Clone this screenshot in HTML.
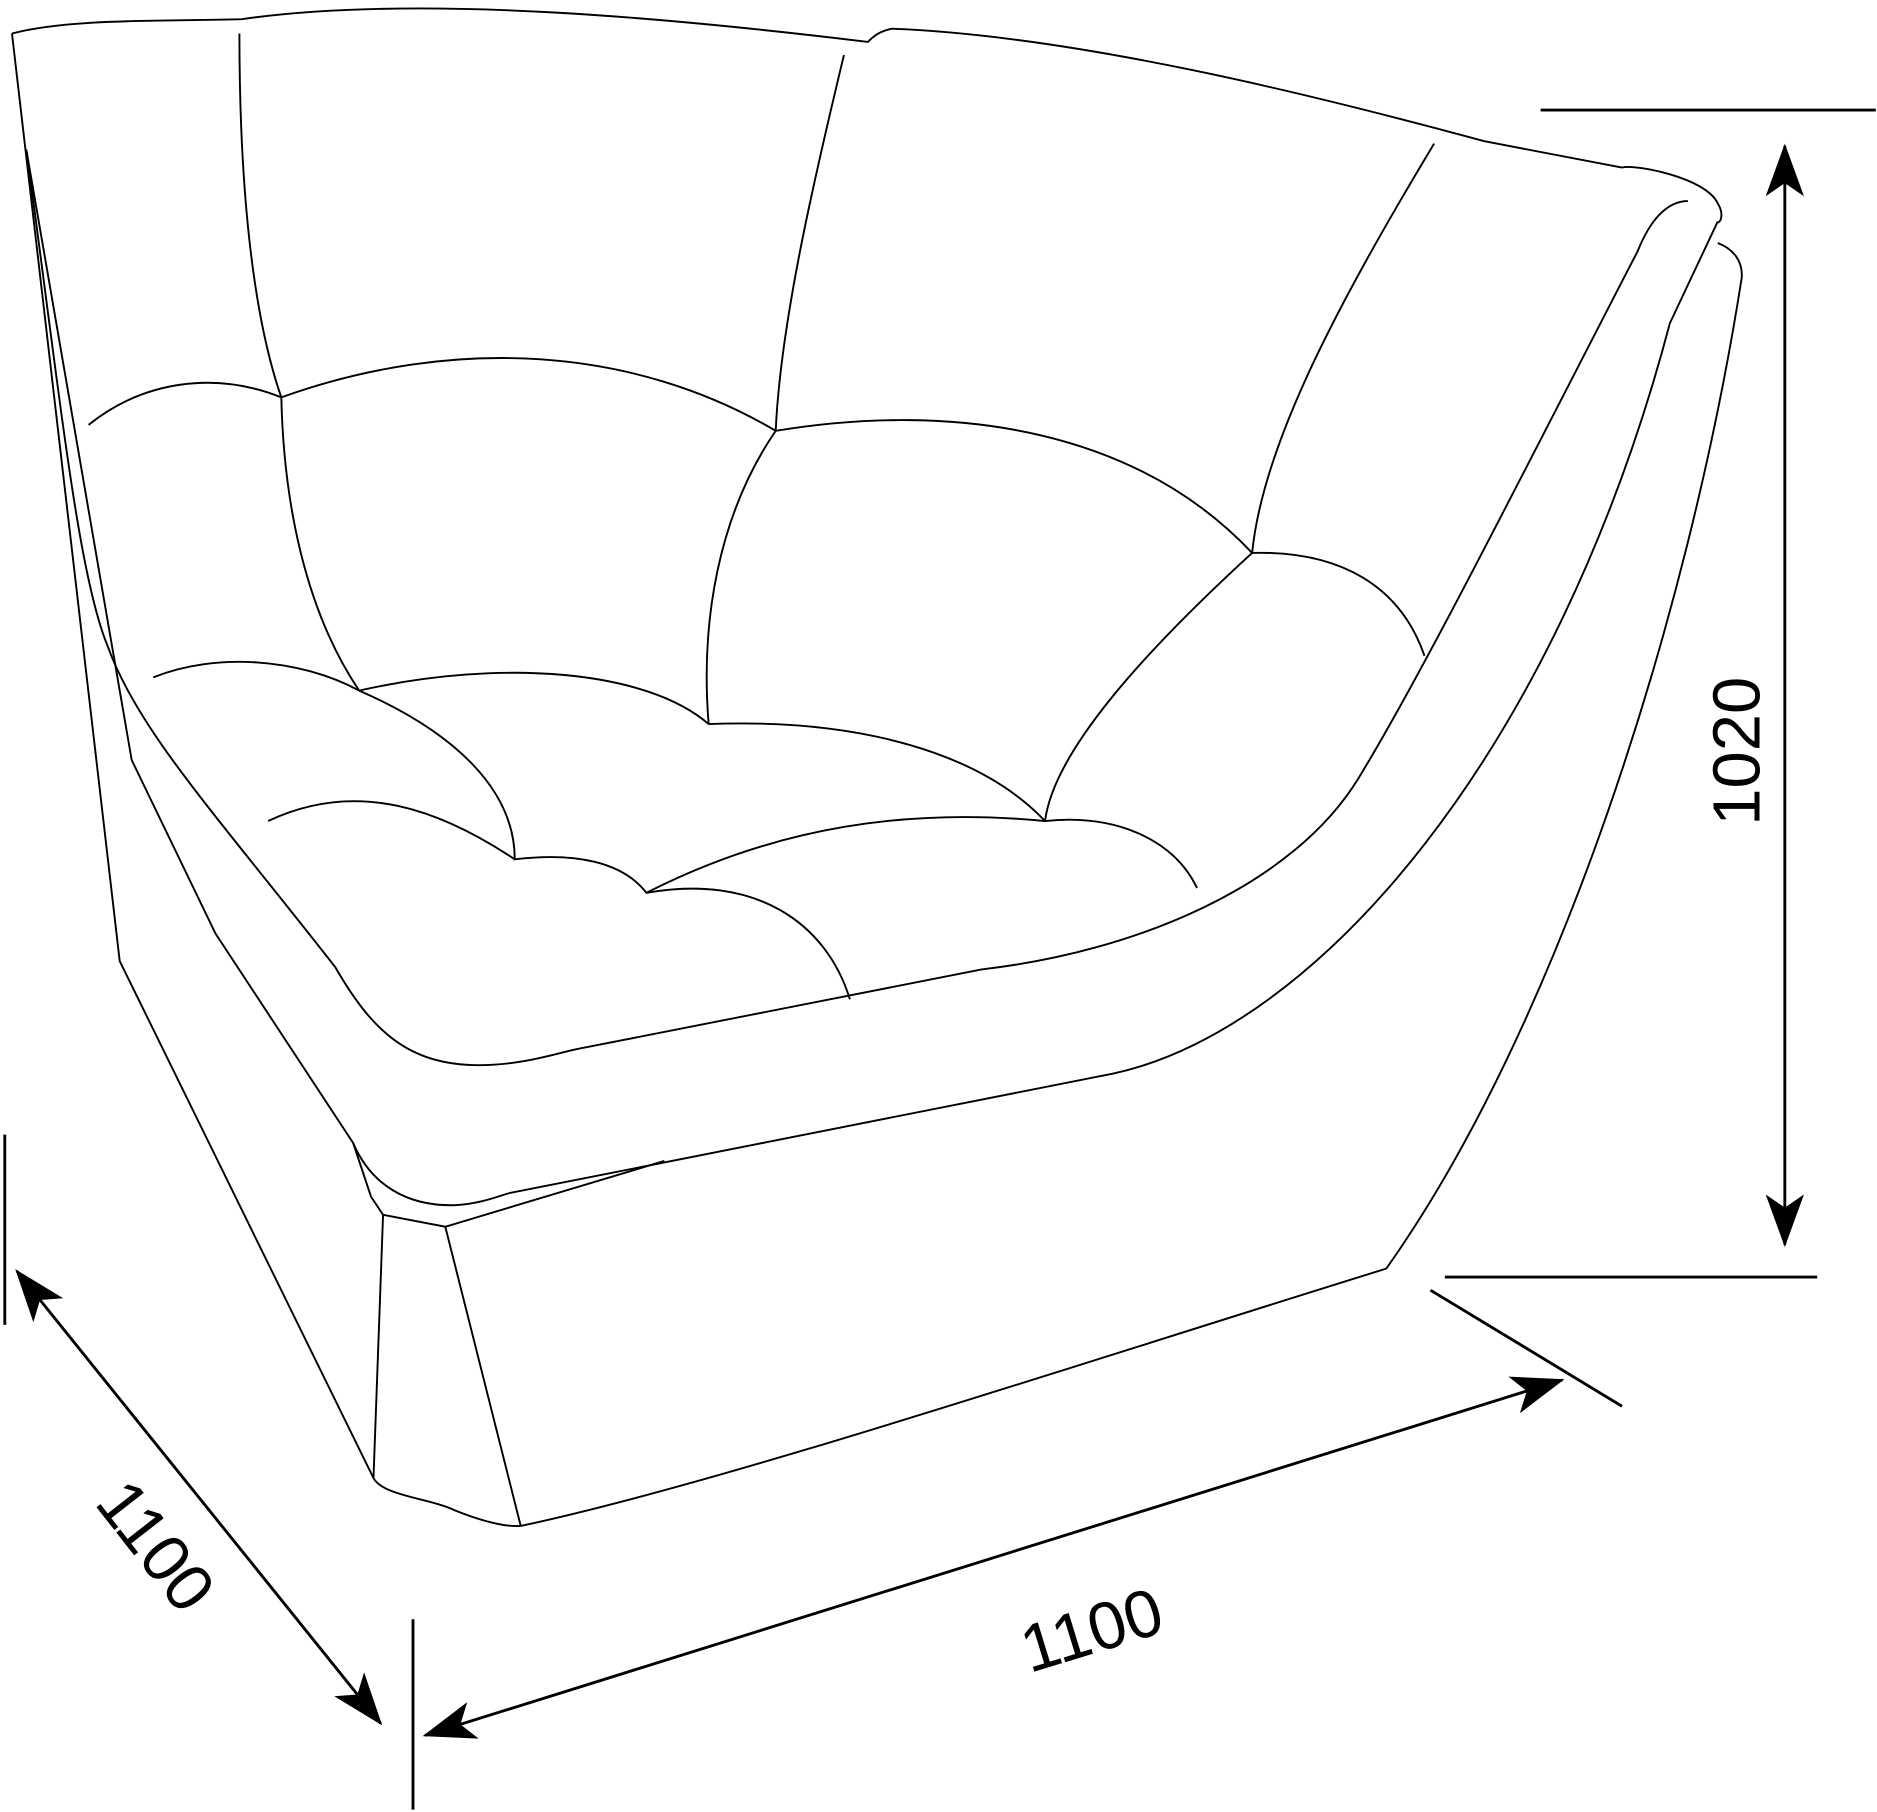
<!DOCTYPE html>
<html><head><meta charset="utf-8"><style>
html,body{margin:0;padding:0;background:#fff;}
svg{display:block;}
text{font-family:"Liberation Sans",sans-serif;font-size:56px;fill:#000;}
</style></head><body>
<svg width="1877" height="1812" viewBox="0 0 1568 1514" preserveAspectRatio="none" xmlns="http://www.w3.org/2000/svg">
<defs>
<marker id="ah" viewBox="0 0 44 32" refX="42" refY="16" markerWidth="44" markerHeight="32" markerUnits="userSpaceOnUse" orient="auto-start-reverse">
<path d="M0,0 L44,16 L0,32 L11,16 Z" fill="#000"/>
</marker>
</defs>
<g fill="none" stroke="#000" stroke-width="1.6">
<path d="M10,28 C60,15 140,18 202,16 C350,-5 560,15 725,35 C730,30 735,26 745,24 C900,30 1100,80 1240,118 L1355,140"/>
<path d="M1355,140 C1365,137 1425,148 1435,170 C1440,178 1438,185 1435,186"/>
<path d="M10,28 L100,803 L312,1235"/>
<path d="M312,1235 C320,1250 360,1252 380,1262 C400,1270 420,1276 435,1275"/>
<path d="M435,1275 C600,1240 900,1140 1158,1060"/>
<path d="M1158,1060 C1300,860 1410,520 1455,232 C1456,218 1448,208 1435,203"/>
<path d="M22,125 L110,635 L180,780 L295,955 L310,1000 L320,1015 L312,1235"/>
<path d="M22,125 C50,330 65,480 90,540 C115,610 180,680 280,808 C310,860 340,890 400,890 C440,890 470,878 490,875"/>
<path d="M295,955 C310,990 340,1008 380,1007 C400,1006 415,1000 425,997"/>
<path d="M320,1015 L372,1025 L555,970"/>
<path d="M372,1025 L435,1275"/>
<path d="M425,997 L930,897 C1100,860 1300,630 1395,270 L1435,185"/>
<path d="M1410,168 C1395,168 1380,180 1368,210 C1280,380 1190,560 1135,650 C1080,740 950,795 820,810 L490,875"/>
<path d="M200,28 C200,150 210,260 235,332 C237,420 255,510 300,577"/>
<path d="M705,46 C680,150 652,270 648,360 C600,430 585,520 592,605"/>
<path d="M1198,120 C1120,250 1055,370 1046,462 C950,550 880,630 873,686"/>
<path d="M74,355 C120,318 180,310 235,332 C380,280 530,290 648,360 C800,335 950,360 1046,462 C1120,460 1170,490 1190,548"/>
<path d="M128,566 C180,545 250,550 300,577 C420,550 540,560 592,605 C720,600 820,630 873,686 C930,680 980,700 1000,742"/>
<path d="M300,577 C380,612 430,660 430,718 C480,712 520,720 540,746 C650,690 760,675 873,686"/>
<path d="M224,686 C300,650 370,678 430,718"/>
<path d="M540,746 C630,730 690,770 710,835"/>
</g>
<g fill="none" stroke="#000" stroke-width="2.4">
<path d="M1287,92 L1567,92"/>
<path d="M1207,1067 L1518,1067"/>
<path d="M1491,122 L1491,1040" marker-start="url(#ah)" marker-end="url(#ah)"/>
<path d="M1195,1078 L1355,1175"/>
<path d="M1305,1153 L355,1450" marker-start="url(#ah)" marker-end="url(#ah)"/>
<path d="M4,948 L4,1107"/>
<path d="M345,1353 L345,1512"/>
<path d="M14,1062 L318,1440" marker-start="url(#ah)" marker-end="url(#ah)"/>
</g>
<text transform="translate(1470,690) rotate(-90)">1020</text>
<text transform="translate(860,1398) rotate(-17)">1100</text>
<text transform="translate(78,1256) rotate(52)">1100</text>
</svg>
</body></html>
